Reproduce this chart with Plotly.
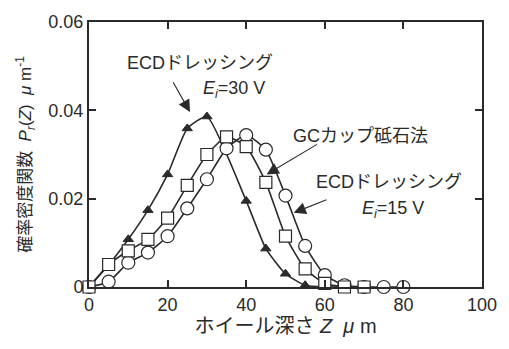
import plotly.graph_objects as go

# Wheel depth Z (μm) and probability density P_r(Z) (μm^-1)
z_ecd30 = [0, 5, 10, 15, 20, 25, 30, 40, 45, 50, 55, 60, 65, 70]
p_ecd30 = [0.0, 0.005, 0.0108, 0.0174, 0.0255, 0.0359, 0.0386, 0.0195, 0.0087, 0.003, 0.0004, 0.0, 0.0, 0.0]

z_gc = [0, 5, 10, 15, 20, 25, 30, 35, 40, 45, 50, 55, 60, 65, 70]
p_gc = [0.0, 0.0051, 0.0082, 0.0108, 0.0156, 0.023, 0.030, 0.034, 0.0318, 0.0237, 0.0115, 0.0041, 0.0008, 0.0, 0.0]

z_ecd15 = [0, 5, 10, 15, 20, 25, 30, 35, 40, 45, 50, 55, 60, 65, 70, 75, 80]
p_ecd15 = [0.0, 0.0012, 0.0055, 0.0078, 0.0115, 0.0178, 0.0244, 0.0314, 0.0344, 0.0311, 0.0207, 0.0093, 0.0027, 0.0004, 0.0, 0.0, 0.0]

x_ticks = [0, 20, 40, 60, 80, 100]
y_ticks = [0, 0.02, 0.04, 0.06]
y_tick_text = ["0", "0.02", "0.04", "0.06"]

FONT = "Liberation Sans, Arial, Noto Sans CJK JP, sans-serif"
INK = "#2a2a2a"

fig = go.Figure()

line_style = dict(color=INK, width=1.6, shape="spline", smoothing=0.5)

fig.add_trace(go.Scatter(
    x=z_ecd30, y=p_ecd30, mode="lines+markers", line=line_style,
    marker=dict(symbol="triangle-up", size=9, color=INK, line=dict(color=INK, width=1)),
    cliponaxis=False, showlegend=False))
fig.add_trace(go.Scatter(
    x=z_ecd15, y=p_ecd15, mode="lines+markers", line=line_style,
    marker=dict(symbol="circle", size=13, color="white", line=dict(color=INK, width=1.2)),
    cliponaxis=False, showlegend=False))
fig.add_trace(go.Scatter(
    x=z_gc, y=p_gc, mode="lines+markers", line=line_style,
    marker=dict(symbol="square", size=12, color="white", line=dict(color=INK, width=1.2)),
    cliponaxis=False, showlegend=False))

label_font = dict(family=FONT, size=18, color=INK)
texts = [
    ("ECDドレッシング", 28.2, 0.0507),
    ("<i>E<sub>i</sub></i>=30 V", 36.8, 0.0447),
    ("GCカップ砥石法", 69.0, 0.0343),
    ("ECDドレッシング", 76.4, 0.0237),
    ("<i>E<sub>i</sub></i>=15 V", 77.4, 0.0175),
]
for t, x, y in texts:
    fig.add_annotation(x=x, y=y, text=t, showarrow=False, font=label_font,
                       xanchor="center", yanchor="middle")

arrows = [
    ((21.2, 0.0467), (25.7, 0.0396)),
    ((58.4, 0.0325), (45.2, 0.0255)),
    ((60.8, 0.0199), (52.1, 0.0168)),
]
for (tx, ty), (hx, hy) in arrows:
    fig.add_annotation(x=hx, y=hy, ax=tx, ay=ty, xref="x", yref="y",
                       axref="x", ayref="y", text="", showarrow=True,
                       arrowhead=2, arrowsize=2.2, arrowwidth=1.1, arrowcolor=INK)

axis_common = dict(
    showline=True, linecolor=INK, linewidth=2, mirror="ticks",
    ticks="inside", ticklen=7, tickwidth=1.5, tickcolor=INK,
    showgrid=False, zeroline=False,
    tickfont=dict(family=FONT, size=18, color=INK),
)

fig.update_xaxes(range=[0, 100], tickvals=x_ticks, **axis_common,
                 title=dict(text="ホイール深さ <i>Z</i>  <i>μ</i> m",
                            font=dict(family=FONT, size=20, color=INK), standoff=4))
fig.update_yaxes(range=[0, 0.06], tickvals=y_ticks, ticktext=y_tick_text, **axis_common,
                 title=dict(text="確率密度関数  <i>P<sub>r</sub></i>(<i>Z</i>)  <i>μ</i> m<sup>-1</sup>",
                            font=dict(family=FONT, size=17, color=INK), standoff=12))

fig.update_layout(
    width=509, height=349,
    margin=dict(l=89, r=16, t=16, b=62),
    paper_bgcolor="white", plot_bgcolor="white",
)

fig.write_html("out.html")
